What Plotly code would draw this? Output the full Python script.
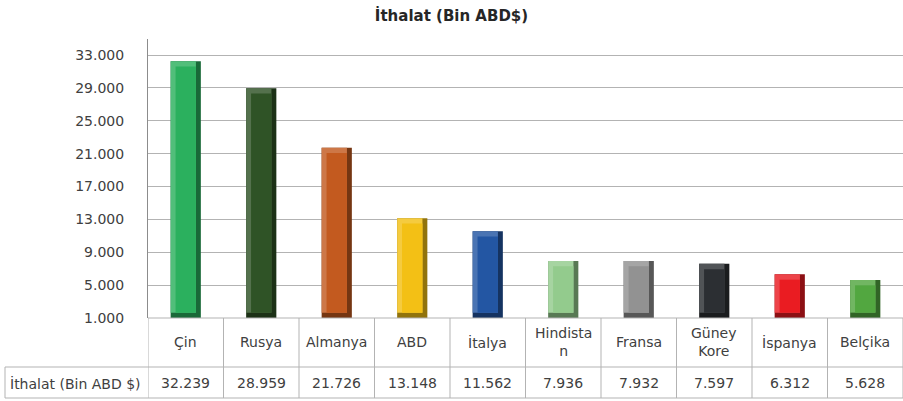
import plotly.graph_objects as go

countries = ["Çin", "Rusya", "Almanya", "ABD", "İtalya", "Hindistan", "Fransa", "Güney Kore", "İspanya", "Belçika"]
cat_labels = ["Çin", "Rusya", "Almanya", "ABD", "İtalya", "Hindista<br>n", "Fransa", "Güney<br>Kore", "İspanya", "Belçika"]
values = [32239, 28959, 21726, 13148, 11562, 7936, 7932, 7597, 6312, 5628]
colors = ["#2bb05e", "#2f5326", "#c35a1f", "#f3c015", "#2356a3", "#93cb8d", "#929292", "#2c2f33", "#ea1c22", "#52a740"]
tick_vals = [1000, 5000, 9000, 13000, 17000, 21000, 25000, 29000, 33000]
series_name = "İthalat (Bin ABD $)"
title = "İthalat (Bin ABD$)"

def shade(h, f):
    h = h.lstrip("#")
    r, g, b = [int(h[i:i+2], 16) for i in (0, 2, 4)]
    if f >= 0:
        r, g, b = [int(c + (255 - c) * f) for c in (r, g, b)]
    else:
        r, g, b = [int(c * (1 + f)) for c in (r, g, b)]
    return f"rgb({r},{g},{b})"

YMIN = 1000
BW = 0.40
BEV_X = 0.065
BEV_Y = 650

fig = go.Figure()
x_idx = list(range(len(countries)))
# dark base (right/bottom bevel)
fig.add_trace(go.Bar(x=x_idx, y=[v - YMIN for v in values], base=YMIN, width=BW,
                     marker=dict(color=[shade(c, -0.4) for c in colors], line=dict(width=0)),
                     hoverinfo="skip", showlegend=False))
# light (left/top bevel)
fig.add_trace(go.Bar(x=x_idx, y=[v - YMIN - BEV_Y for v in values], base=YMIN + BEV_Y,
                     width=BW - BEV_X, offset=-BW / 2,
                     marker=dict(color=[shade(c, 0.18) for c in colors], line=dict(width=0)),
                     hoverinfo="skip", showlegend=False))
# face
fig.add_trace(go.Bar(x=x_idx, y=[v - YMIN - 2 * BEV_Y for v in values], base=YMIN + BEV_Y,
                     width=BW - 2 * BEV_X, offset=-BW / 2 + BEV_X,
                     marker=dict(color=colors, line=dict(width=0)),
                     name=series_name, showlegend=False))

# table geometry (paper coords)
L, T, B, H = 148, 39, 83, 401
plot_h = H - T - B
def py(p):
    return (H - B - p) / plot_h
def px(p):
    return (p - L) / (903 - L)

FONT = "DejaVu Sans, sans-serif"
grid = "#b3b3b3"
shapes = []
for k in range(len(countries) + 1):
    shapes.append(dict(type="line", xref="x", yref="paper", x0=k - 0.5, x1=k - 0.5,
                       y0=py(318), y1=py(398), line=dict(color=grid, width=1)))
shapes.append(dict(type="line", xref="paper", yref="paper", x0=px(5), x1=px(5),
                   y0=py(367), y1=py(398), line=dict(color=grid, width=1)))
for yy in (367, 398):
    shapes.append(dict(type="line", xref="paper", yref="paper", x0=px(5), x1=1,
                       y0=py(yy), y1=py(yy), line=dict(color=grid, width=1)))
shapes.append(dict(type="line", xref="paper", yref="paper", x0=0, x1=1,
                   y0=py(318), y1=py(318), line=dict(color=grid, width=1)))

font_txt = dict(family=FONT, size=14, color="#404040")
ann = []
for i, (lab, v) in enumerate(zip(cat_labels, values)):
    ann.append(dict(x=i, y=py(342), xref="x", yref="paper", text=lab, showarrow=False,
                    font=font_txt, xanchor="center", yanchor="middle"))
    ann.append(dict(x=i, y=py(383), xref="x", yref="paper", text=f"{v:,}".replace(",", "."),
                    showarrow=False, font=font_txt, xanchor="center", yanchor="middle"))
ann.append(dict(x=px(8), y=py(383), xref="paper", yref="paper", text=series_name,
                showarrow=False, font=dict(family=FONT, size=14, color="#404040"),
                xanchor="left", yanchor="middle"))

fig.update_layout(
    width=903, height=401,
    margin=dict(l=L, r=0, t=T, b=B),
    paper_bgcolor="white", plot_bgcolor="white",
    barmode="overlay",
    separators=",.",
    title=dict(text=f"<b>{title}</b>", x=0.5, xref="container", xanchor="center",
               y=1 - 16 / 401, yref="container", yanchor="middle",
               font=dict(family=FONT, size=15, color="#262626")),
    xaxis=dict(range=[-0.5, len(countries) - 0.5], showticklabels=False, showgrid=False,
               zeroline=False, showline=False, ticks=""),
    yaxis=dict(range=[YMIN, 34950], tickvals=tick_vals, tickformat=",d",
               showgrid=True, gridcolor="#b3b3b3", gridwidth=1, zeroline=False,
               showline=True, linecolor="#8c8c8c", linewidth=1, ticks="",
               ticklabelstandoff=20,
               tickfont=dict(family=FONT, size=14, color="#404040")),
    shapes=shapes, annotations=ann,
    font=dict(family=FONT),
)

fig.write_html("out.html", config={"displayModeBar": False},
               post_script="document.body.style.margin='0';document.body.style.padding='0';")
